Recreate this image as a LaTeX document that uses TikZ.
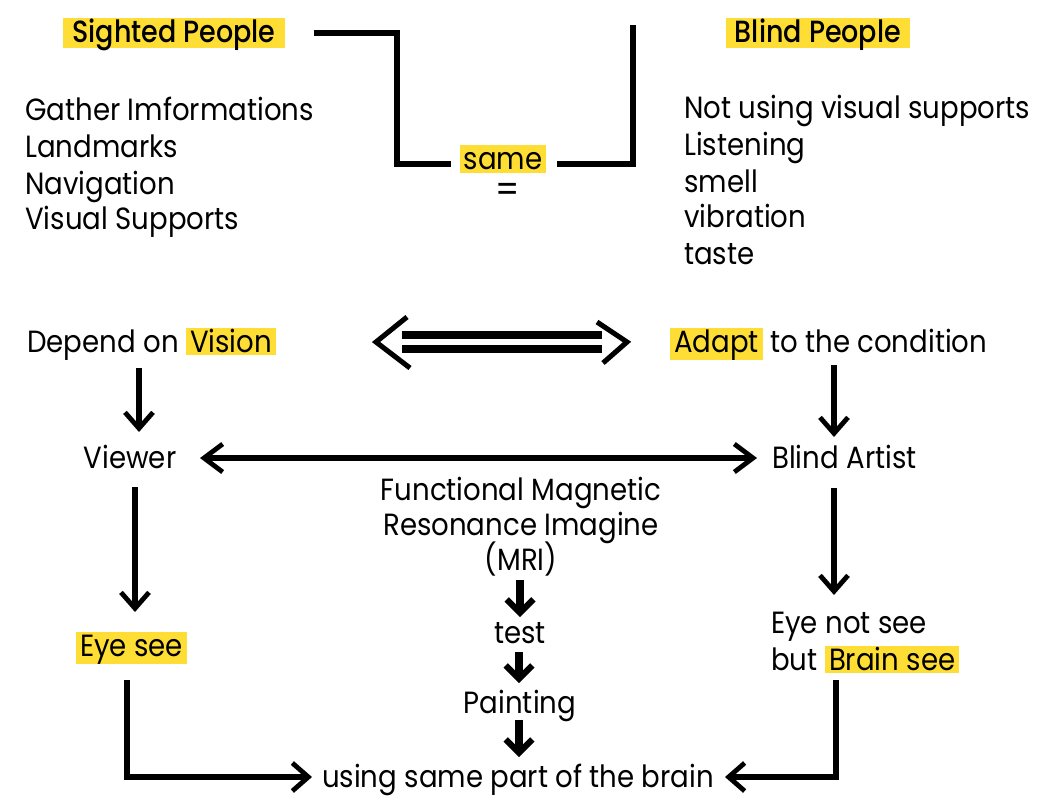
\documentclass[tikz,border=0pt]{standalone}
\usepackage{fontspec}
\setmainfont{Poppins}[FakeStretch=0.9]
\newfontfamily\ttlfont{Poppins}[UprightFont=* Medium,FakeStretch=0.88]
\usetikzlibrary{arrows.meta,calc}
\definecolor{hilite}{RGB}{254,222,52}
\def\yel#1{{\setlength{\fboxsep}{0pt}\colorbox{hilite}{\rule[-2.5pt]{0pt}{20.5pt}\hspace{3pt}#1\hspace{3pt}}}}

\begin{document}
\begin{tikzpicture}[x=0.75pt,y=-0.75pt,
		every node/.style={inner sep=0pt, font=\fontsize{23pt}{27pt}\selectfont},
		ttl/.style={fill=hilite, font=\ttlfont\fontsize{23pt}{27pt}\selectfont, inner xsep=7pt, inner ysep=1.5pt, text height=17pt, text depth=3pt},
		arr/.style={line width=4pt, -{Straight Barb[length=12pt,width=21pt,line width=3.6pt]}},
		fatarr/.style={line width=6pt, -{Straight Barb[length=10pt,width=20pt,line width=4.6pt]}},
		brk/.style={line width=4.8pt, line cap=rect},
		eqbar/.style={line width=6pt},
		chev/.style={line width=3.8pt, line join=miter}]
		%%%%% START %%%%%
		\useasboundingbox (0,0) rectangle (1037,807);
		
		% top row
		\node[ttl] (sig) at (174,33) {Sighted People};
		\node[ttl] (bp) at (818,33) {Blind People};
		\node (same) at (503,159) {\yel{same}};
		\node[font=\fontsize{28pt}{28pt}\selectfont] (eqs) at (508,193) {=};
		
		\draw[brk] ($(sig.center)+(143,0)$) -- ++(80,0) |- ($(same.center)+(-55,5)$);
		\draw[brk] ($(same.center)+(57,5)$) -| ($(bp.center)+(-185,-5)$);
		
		\node[anchor=base west] (g1) at (25,120) {Gather Imformations};
		\node[anchor=base west] (g2) at (25,157) {Landmarks};
		\node[anchor=base west] (g3) at (25,194) {Navigation};
		\node[anchor=base west] (g4) at (25,229) {Visual Supports};
		
		\node[anchor=base west] (b1) at (684,118) {Not using visual supports};
		\node[anchor=base west] (b2) at (684,155) {Listening};
		\node[anchor=base west] (b3) at (684,192) {smell};
		\node[anchor=base west] (b4) at (684,227) {vibration};
		\node[anchor=base west] (b5) at (684,264) {taste};
		
		% middle row
		\node[anchor=base west] (dep) at (27,352) {Depend on \yel{Vision}};
		\node[anchor=base west] (adp) at (670,352) {\yel{Adapt} to the condition};
		
		\coordinate (eqL) at ($(dep.base west)+(349,-10)$);
		\coordinate (eqR) at ($(adp.base west)+(-43,-10)$);
		\draw[eqbar] ($(eqL)+(26,-7)$) -- ($(eqR)+(-25,-7)$);
		\draw[eqbar] ($(eqL)+(26,7)$) -- ($(eqR)+(-25,7)$);
		\draw[chev] ($(eqL)+(31,-25)$) -- (eqL) -- ($(eqL)+(34,26)$);
		\draw[chev] ($(eqR)+(-30,-20)$) -- (eqR) -- ($(eqR)+(-24,21)$);
		
		\node[anchor=base] (view) at (130,468) {Viewer};
		\node[anchor=base west] (ba) at (772,468) {Blind Artist};
		
		\draw[arr] ($(dep.base west)+(112,16)$) -- ($(view.base)+(9,-36)$);
		\draw[arr] ($(adp.base west)+(164,13)$) -- ($(ba.base west)+(62,-31)$);
		\draw[arr, {Straight Barb[length=14pt,width=21pt,line width=3.6pt]}-{Straight Barb[length=14pt,width=21pt,line width=3.6pt]}] ($(view.base)+(70,-10)$) -- ($(ba.base west)+(-15,-10)$);
		
		% lower part
		\node[anchor=base] (fm1) at (521,500) {Functional Magnetic};
		\node[anchor=base] (fm2) at (521,535) {Resonance Imagine};
		\node[anchor=base] (fm3) at (521,570) {(MRI)};
		\node[anchor=base] (tst) at (520,643) {test};
		\node[anchor=base] (pnt) at (520,713) {Painting};
		
		\node[anchor=base west] (eye) at (76,656) {\yel{Eye see}};
		\node[anchor=base west] (ens1) at (771,633) {Eye not see};
		\node[anchor=base west] (ens2) at (771,670) {but \yel{Brain see}};
		
		\node[anchor=base] (use) at (518,787) {using same part of the brain};
		
		\draw[arr, line width=5pt] ($(view.base)+(5,19)$) -- ($(eye.base west)+(59,-44)$);
		\draw[arr, line width=5pt] ($(ba.base west)+(62,20)$) -- ($(ens1.base west)+(63,-38)$);
		
		\draw[fatarr] ($(fm3.base)+(-1,10)$) -- ($(tst.base)+(0,-26)$);
		\draw[fatarr] ($(tst.base)+(-1,9)$) -- ($(pnt.base)+(-1,-30)$);
		\draw[fatarr] ($(pnt.base)+(-1,7)$) -- ($(use.base)+(1,-30)$);
		
		\draw[arr, line width=5pt, line cap=rect] ($(eye.base west)+(51,27)$) |- ($(use.base)+(-206,-10)$);
		\draw[arr, line width=5pt, line cap=rect] ($(ens2.base west)+(65,13)$) |- ($(use.base)+(207,-10)$);
		%%%%% END %%%%%
	\end{tikzpicture}
\end{document}
